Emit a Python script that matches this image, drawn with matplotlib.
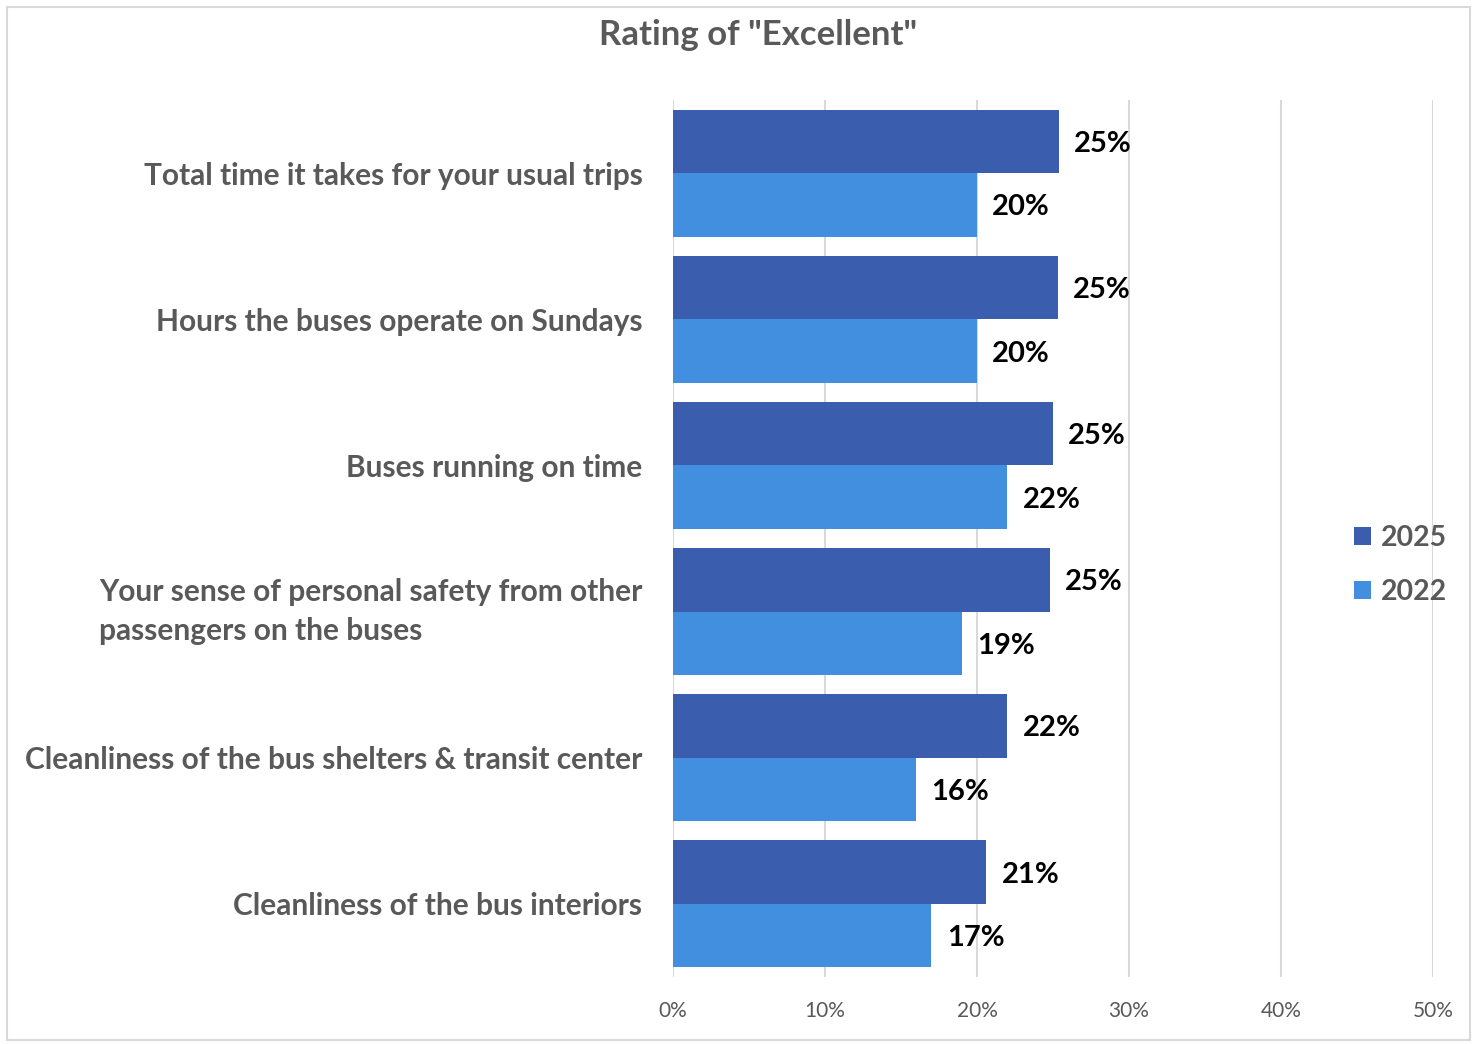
import matplotlib.pyplot as plt
import numpy as np
from matplotlib.patches import Rectangle

plt.rcParams['font.family'] = ['Lato', 'DejaVu Sans']

categories = [
    "Total time it takes for your usual trips",
    "Hours the buses operate on Sundays",
    "Buses running on time",
    "Your sense of personal safety from other\npassengers on the buses",
    "Cleanliness of the bus shelters & transit center",
    "Cleanliness of the bus interiors",
]
excellent_2025 = [25.4, 25.3, 25.0, 24.8, 22.0, 20.6]
excellent_2022 = [20.0, 20.0, 22.0, 19.0, 16.0, 17.0]
series_names = ["2025", "2022"]
x_ticks = [0, 10, 20, 30, 40, 50]

color_2025 = "#3A5DAE"
color_2022 = "#418FDE"
grey = "#595959"

fig = plt.figure(figsize=(14.76, 10.44), dpi=100)
ax = fig.add_axes([673 / 1476, 67 / 1044, 760 / 1476, 877 / 1044])

y = np.arange(len(categories))
h = 0.435
b1 = ax.barh(y - h / 2, excellent_2025, height=h, color=color_2025, label=series_names[0])
b2 = ax.barh(y + h / 2, excellent_2022, height=h, color=color_2022, label=series_names[1])

for bars, vals in ((b1, excellent_2025), (b2, excellent_2022)):
    for bar, v in zip(bars, vals):
        ax.annotate(f"{v:.0f}%", (bar.get_width(), bar.get_y() + bar.get_height() / 2),
                    xytext=(11, 0), textcoords="offset points", va="center_baseline", ha="left",
                    fontsize=21, fontweight="bold", color="black")

ax.set_xlim(0, 50)
ax.set_ylim(len(categories) - 0.5, -0.5)
ax.set_xticks(x_ticks)
ax.set_xticklabels([f"{t}%" for t in x_ticks], fontsize=15, color=grey)
ax.set_yticks(y)
ax.set_yticklabels(categories, fontsize=21.5, fontweight="bold", color=grey)
for lbl in ax.get_yticklabels():
    lbl.set_multialignment("left")
    if "\n" in lbl.get_text():
        lbl.set_linespacing(1.45)
        lbl.set_va("center")
ax.tick_params(axis="y", length=0, pad=22)
ax.tick_params(axis="x", length=0, pad=17)
ax.grid(axis="x", color="#D9D9D9", linewidth=1.5)
ax.set_axisbelow(True)
for s in ax.spines.values():
    s.set_visible(False)

fig.text(758 / 1476, 1 - 35 / 1044, 'Rating of "Excellent"', ha="center", va="center",
         fontsize=25, fontweight="bold", color=grey)

leg = fig.legend(handles=[b1, b2], loc="center left", bbox_to_anchor=(1328 / 1476, 1 - 565 / 1044),
                 frameon=False, fontsize=20.5, handlelength=0.6, handleheight=0.6,
                 handletextpad=0.35, labelspacing=1.0)
for t in leg.get_texts():
    t.set_color(grey)
    t.set_fontweight("bold")

fig.patches.append(Rectangle((7 / 1476, 4 / 1044), 1463 / 1476, 1033 / 1044, transform=fig.transFigure,
                             fill=False, edgecolor="#D9D9D9", linewidth=1.5))

fig.savefig("out.png", dpi=100)
